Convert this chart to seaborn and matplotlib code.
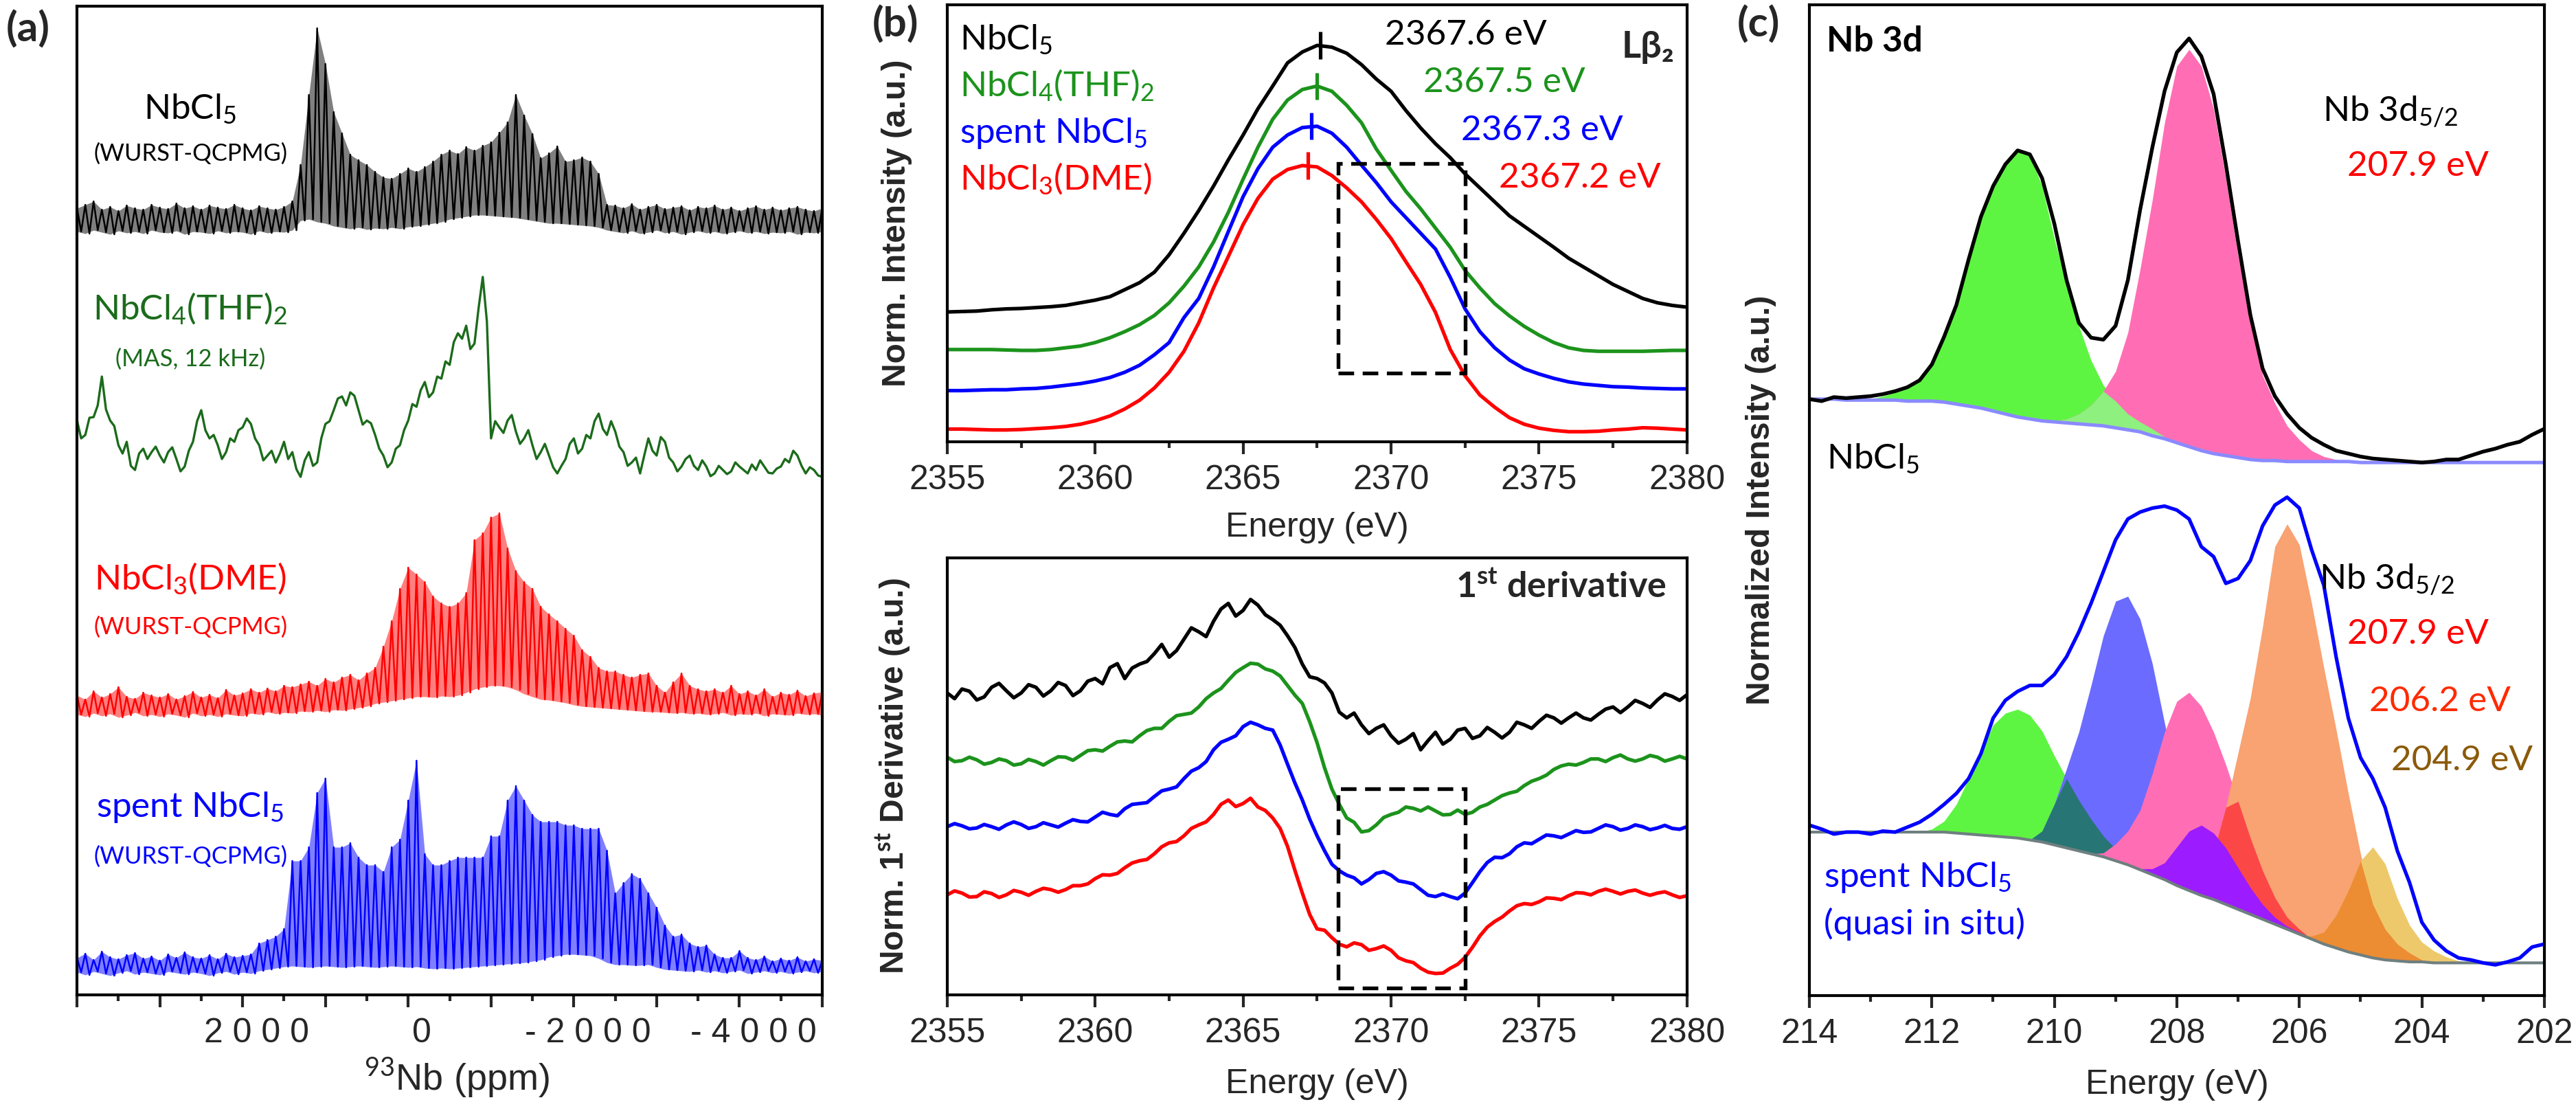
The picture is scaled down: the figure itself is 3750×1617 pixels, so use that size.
import numpy as np
import matplotlib
matplotlib.use("Agg")
import matplotlib.pyplot as plt
from matplotlib.patches import Rectangle
from matplotlib.ticker import MultipleLocator, FixedLocator, FixedFormatter
from matplotlib.transforms import ScaledTranslation
import seaborn as sns

# ---------------- (a) 93Nb NMR, read every 100 ppm from 4000 to -5000 ppm
# QCPMG traces: spike tops and spike bottoms (a.u., above each trace's own baseline)
nmr_black_top = [40, 45, 50, 38, 42, 36, 44, 40, 38, 45, 41, 39, 47, 40, 43, 38, 44, 41, 39, 45,
                 40, 37, 43, 40, 38, 42, 50, 103, 205, 302, 250, 180, 149, 118, 110, 103, 93, 85, 83, 90,
                 98, 93, 100, 108, 118, 124, 119, 129, 124, 131, 136, 150, 165, 205, 175, 148, 113, 120, 130, 108,
                 110, 114, 108, 90, 45, 44, 40, 46, 38, 42, 45, 39, 41, 43, 37, 42, 40, 44, 38, 41,
                 36, 40, 43, 38, 41, 37, 40, 42, 38, 36, 40]
nmr_black_bot = [6, 3, 8, 5, 2, 7, 4, 6, 3, 8, 5, 4, 7, 2, 6, 5, 3, 7, 4, 6,
                 5, 2, 7, 4, 6, 5, 8, 22, 24, 20, 18, 14, 12, 10, 12, 9, 11, 10, 12, 10,
                 13, 14, 16, 18, 20, 24, 26, 28, 30, 30, 29, 28, 27, 26, 24, 22, 20, 18, 18, 17,
                 16, 15, 14, 12, 8, 6, 4, 7, 3, 5, 8, 4, 6, 2, 5, 7, 4, 6, 3, 5,
                 7, 4, 6, 3, 5, 4, 6, 2, 5, 4, 6]
nmr_red_top = [36, 30, 42, 33, 38, 48, 34, 31, 40, 36, 33, 38, 30, 35, 41, 33, 37, 32, 44, 36, 39,
               45, 40, 46, 42, 50, 48, 52, 56, 50, 60, 55, 62, 66, 58, 68, 76, 107, 144, 191, 222,
               212, 201, 180, 170, 165, 170, 185, 262, 272, 295, 301, 250, 217, 201, 191, 165, 154, 144, 133, 123,
               102, 92, 76, 71, 71, 66, 62, 66, 68, 50, 40, 55, 68, 50, 45, 42, 45, 40, 50,
               38, 42, 36, 45, 34, 40, 37, 43, 35, 39, 41]
nmr_red_bot = [8, 5, 10, 6, 9, 4, 7, 11, 6, 8, 5, 9, 7, 4, 10, 6, 8, 5, 9, 7, 6, 10, 8, 12, 9, 11, 10, 13,
               12, 14, 12, 15, 14, 16, 18, 20,
               24, 26, 28, 30, 32, 34, 34, 33, 35, 34, 36, 40,
               45, 48, 50, 50, 48, 44,
               38, 34, 30, 29, 27, 25, 22, 20, 19, 18, 17,
               16, 15, 14, 13, 12, 12, 11, 10, 11, 9, 10, 8, 9, 11, 7, 9, 8, 10, 6, 9, 8, 7, 10, 8, 9, 7]
nmr_blue_top = [29, 35, 26, 38, 30, 27, 33, 36, 28, 31, 25, 34, 29, 37, 30, 28, 33, 27, 35, 30, 32,
                34, 50, 55, 60, 71, 170, 170, 190, 269, 290, 190, 190, 196, 175, 164, 164, 154, 190, 201, 258,
                316, 180, 164, 164, 170, 175, 175, 175, 175, 206, 206, 258, 279, 258, 237, 227, 227, 227, 222, 222,
                217, 217, 217, 185, 123, 138, 151, 144, 123, 102, 76, 60, 63, 50, 45, 47, 34, 29, 29, 39,
                29, 26, 31, 24, 28, 25, 30, 24, 27, 25]
nmr_blue_bot = [8, 4, 9, 6, 3, 7, 10, 5, 8, 6, 4, 9, 7, 5, 8, 6, 3, 7, 9, 5, 8, 6, 10, 12, 14,
                16, 17, 16, 15, 16, 17, 16, 15, 16, 17, 16, 15, 16, 17, 16, 15, 16,
                14, 13, 14, 13, 14, 15, 16, 17, 18, 19, 20, 21, 22, 24, 26,
                30, 32, 34, 34, 33, 32, 28, 22,
                19, 19, 18, 18, 19,
                15, 12, 11, 10, 9, 11, 8, 10, 7, 9, 11, 6, 8, 10, 7, 9, 6, 8, 10, 7, 9]
# MAS trace, read every 50 ppm from 4000 to -5000 ppm
nmr_green = [96, 70, 75, 100, 101, 118, 160, 112, 96, 88, 60, 48, 65, 30, 24, 48, 55, 40, 50, 58,
             45, 35, 50, 57, 40, 22, 29, 52, 65, 95, 111, 82, 70, 75, 60, 40, 50, 70, 65, 82,
             86, 99, 91, 70, 60, 38, 45, 52, 35, 48, 65, 40, 50, 25, 14, 38, 50, 30, 35, 70,
             91, 95, 111, 128, 131, 118, 137, 132, 111, 90, 96, 92, 75, 55, 45, 28, 35, 55, 60, 82,
             96, 120, 116, 140, 152, 130, 137, 160, 157, 182, 177, 210, 223, 215, 234, 200, 208, 260, 305, 240,
             70, 95, 86, 78, 96, 104, 80, 62, 70, 82, 60, 40, 50, 62, 45, 28, 19, 30, 40, 62,
             70, 48, 55, 75, 70, 95, 106, 84, 75, 95, 80, 58, 50, 30, 35, 42, 19, 45, 70, 52,
             45, 72, 65, 42, 35, 22, 29, 40, 45, 30, 24, 38, 29, 15, 19, 30, 24, 18, 22, 35,
             29, 24, 19, 32, 24, 38, 29, 20, 19, 26, 29, 40, 35, 52, 45, 30, 19, 28, 24, 16,
             14]
nmr_offsets = {"black": 1105, "green": 740, "red": 400, "blue": 25}
ppm_ticks = [4000, 3000, 2000, 1000, 0, -1000, -2000, -3000, -4000, -5000]
ppm_labels = ["", "", "2 0 0 0", "", "0", "", "- 2 0 0 0", "", "- 4 0 0 0", ""]

# ---------------- (b) Nb L-beta2 XANES, read every 0.5 eV from 2355 to 2380 eV
xan_black = [29.7, 29.8, 29.9, 30.2, 30.4, 30.5, 30.7, 30.9, 31.2, 31.8, 32.4, 33.2, 34.8, 36.4, 38.8, 42.8,
             47.7, 52.9, 58.5, 64.5, 70.2, 76.2, 81.4, 86.7, 89.2, 90.7, 90.3, 88.9, 86.3, 83.0, 80.2, 75.8,
             71.8, 68.2, 65.0, 61.3, 58.1, 54.9, 51.7, 49.3, 46.9, 44.5, 42.0, 40.0, 38.0, 36.0, 34.4, 32.8,
             31.8, 31.2, 30.8]
xan_green = [21.1, 21.1, 21.1, 21.1, 21.0, 20.9, 20.9, 21.1, 21.5, 21.9, 22.7, 23.8, 25.2, 26.8, 28.9, 31.8,
             35.6, 40.0, 45.7, 52.5, 60.1, 67.4, 73.8, 78.2, 80.6, 81.4, 80.2, 77.0, 73.0, 67.0, 62.1, 57.3,
             53.3, 48.9, 44.5, 39.2, 35.2, 31.6, 28.8, 26.4, 24.4, 22.7, 21.5, 20.9, 20.7, 20.7, 20.7, 20.7,
             20.8, 20.9, 20.9]
xan_blue = [11.7, 11.7, 11.8, 11.9, 11.9, 12.1, 12.2, 12.5, 12.9, 13.3, 13.9, 14.7, 15.9, 17.5, 19.9, 22.7,
            28.4, 32.8, 40.0, 48.1, 56.1, 62.5, 67.4, 70.2, 71.9, 72.2, 70.6, 67.4, 63.3, 59.3, 54.9, 51.3,
            47.7, 44.1, 37.6, 30.4, 25.2, 21.5, 18.7, 16.7, 15.5, 14.5, 13.7, 13.2, 12.9, 12.6, 12.5, 12.3,
            12.2, 12.1, 12.1]
xan_red = [2.9, 2.9, 2.8, 2.7, 2.7, 2.8, 3.0, 3.2, 3.5, 4.0, 4.8, 5.9, 7.5, 9.5, 12.3, 15.9,
           20.7, 27.2, 35.2, 42.4, 49.7, 55.7, 60.1, 62.3, 63.2, 62.9, 60.9, 58.1, 54.9, 50.9, 46.5, 41.2,
           36.0, 29.6, 21.1, 15.1, 10.7, 7.9, 5.5, 4.0, 3.1, 2.6, 2.3, 2.3, 2.4, 2.7, 2.9, 3.2,
           3.1, 2.9, 2.7]
# first derivative, read every 0.25 eV from 2355 to 2380 eV
der_black = [69.1, 67.8, 70.0, 69.5, 67.5, 68.2, 70.4, 71.3, 69.6, 68.0, 69.1, 71.0, 70.4, 68.4, 69.6, 71.5,
             70.8, 68.5, 69.6, 71.8, 72.4, 71.2, 74.9, 75.8, 72.4, 74.8, 75.7, 76.3, 78.1, 80.2, 77.3, 78.8,
             81.4, 84.0, 83.1, 82.0, 85.5, 88.3, 89.6, 86.7, 88.0, 90.5, 89.2, 87.0, 85.9, 84.6, 82.2, 79.5,
             75.7, 72.8, 72.4, 71.4, 69.1, 64.7, 63.4, 64.5, 61.8, 59.8, 61.0, 61.8, 59.3, 57.6, 58.5, 59.8,
             56.1, 58.2, 60.1, 57.4, 58.5, 60.6, 61.0, 58.7, 59.3, 61.2, 60.1, 58.8, 60.1, 62.4, 61.8, 61.0,
             62.6, 64.0, 63.4, 62.2, 63.4, 64.5, 63.4, 62.9, 64.2, 65.4, 65.9, 64.6, 65.9, 67.4, 66.7, 65.8,
             67.5, 68.9, 68.3, 67.4, 68.7]
der_green = [54.4, 53.4, 53.6, 54.4, 53.8, 52.8, 53.2, 54.0, 53.6, 52.6, 52.9, 53.9, 53.4, 52.6, 53.6, 54.5,
             54.4, 53.7, 54.8, 55.9, 56.1, 55.8, 56.9, 57.9, 58.1, 57.9, 59.3, 60.5, 61.0, 61.0, 62.6, 63.9,
             64.2, 64.5, 65.9, 67.8, 69.1, 70.1, 72.0, 73.8, 74.9, 75.9, 75.7, 74.6, 74.1, 73.0, 70.8, 68.6,
             66.7, 62.5, 57.7, 52.0, 47.1, 43.6, 40.5, 39.5, 37.3, 37.6, 38.9, 40.6, 41.3, 41.8, 43.0, 42.7,
             42.1, 43.0, 42.1, 41.2, 41.3, 42.3, 41.3, 41.8, 43.0, 43.6, 44.6, 45.6, 46.2, 46.6, 47.9, 48.9,
             49.5, 50.3, 51.6, 52.4, 52.8, 52.6, 53.2, 54.0, 54.0, 53.4, 54.3, 54.9, 54.0, 53.5, 54.0, 54.8,
             54.4, 53.5, 54.0, 54.6, 54.0]
der_blue = [38.5, 39.2, 38.7, 38.0, 38.2, 39.0, 38.5, 37.9, 38.9, 39.6, 39.0, 38.1, 38.5, 39.4, 38.9, 38.4,
            39.3, 40.1, 39.7, 39.6, 40.7, 41.8, 41.3, 41.0, 42.6, 43.6, 43.8, 44.0, 45.4, 46.7, 47.1, 47.6,
            49.5, 51.2, 52.0, 53.4, 56.1, 57.8, 58.5, 59.3, 61.4, 62.4, 61.8, 61.0, 60.6, 57.2, 52.8, 48.5,
            44.6, 40.2, 36.4, 33.0, 29.9, 28.4, 27.4, 26.8, 25.4, 26.4, 27.8, 28.2, 27.4, 26.1, 25.8, 25.4,
            24.1, 22.8, 22.5, 23.1, 22.5, 22.0, 23.3, 25.7, 28.2, 30.3, 31.5, 31.4, 32.3, 33.9, 34.8, 34.6,
            35.6, 36.6, 36.4, 36.0, 36.8, 37.6, 37.2, 37.3, 38.1, 38.9, 38.5, 37.7, 38.1, 38.9, 38.5, 37.8,
            38.2, 38.8, 38.1, 37.9, 38.5]
der_red = [22.9, 23.8, 23.3, 22.4, 22.5, 23.6, 23.2, 22.3, 22.9, 23.9, 23.5, 22.8, 23.7, 24.4, 24.1, 23.5,
           24.1, 25.0, 25.0, 25.4, 26.6, 27.5, 27.4, 27.8, 29.1, 30.2, 30.7, 31.0, 32.3, 33.9, 34.8, 35.1,
           36.4, 38.1, 38.9, 39.6, 41.3, 43.6, 44.6, 43.1, 43.8, 45.0, 43.0, 42.2, 40.5, 38.1, 34.0, 28.5,
           23.3, 18.4, 15.1, 14.8, 13.1, 11.6, 11.0, 11.9, 11.5, 10.2, 10.6, 11.2, 10.2, 8.5, 7.8, 7.4,
           6.1, 5.2, 4.9, 5.0, 6.1, 7.0, 8.6, 10.9, 13.5, 15.5, 16.8, 17.8, 19.2, 20.4, 20.9, 20.7,
           21.3, 22.2, 22.1, 21.8, 22.7, 23.4, 23.3, 22.9, 23.7, 24.2, 23.7, 23.1, 23.7, 24.0, 23.3, 22.8,
           23.3, 23.6, 22.9, 22.3, 22.7]
xan_names = ["NbCl$_5$", "NbCl$_4$(THF)$_2$", "spent NbCl$_5$", "NbCl$_3$(DME)"]
xan_peaks = [2367.6, 2367.5, 2367.3, 2367.2]
box_energy = [2368.2, 2372.5]
box_xanes = [15.7, 63.7]
box_deriv = [1.6, 47.1]

# ---------------- (c) Nb 3d XPS, read every 0.2 eV from 214 to 202 eV
xps_top = [60.2, 60.0, 60.4, 60.3, 60.4, 60.5, 60.7, 61.0, 61.4, 62.1, 63.7, 66.5, 69.7, 74.3, 78.6, 81.7,
           83.9, 85.3, 84.9, 82.5, 77.9, 72.2, 67.9, 66.4, 66.2, 67.6, 72.2, 79.3, 85.6, 91.3, 95.2, 96.6,
           94.8, 91.0, 83.9, 76.1, 68.7, 63.3, 60.5, 58.7, 57.3, 56.3, 55.6, 55.0, 54.7, 54.4, 54.2, 54.1,
           54.0, 53.9, 53.8, 53.9, 54.1, 54.1, 54.5, 54.9, 55.2, 55.6, 55.9, 56.6, 57.2]
bg_top = [60.2, 60.2, 60.2, 60.1, 60.1, 60.1, 60.1, 60.1, 60.0, 60.0, 60.0, 59.9, 59.7, 59.5, 59.3, 59.0,
          58.7, 58.4, 58.2, 58.0, 57.9, 57.8, 57.7, 57.6, 57.5, 57.3, 57.1, 56.9, 56.5, 56.2, 55.8, 55.4,
          55.0, 54.7, 54.5, 54.3, 54.1, 54.0, 54.0, 53.9, 53.9, 53.9, 53.9, 53.9, 53.9, 53.8, 53.8, 53.8,
          53.8, 53.8, 53.8, 53.8, 53.8, 53.8, 53.8, 53.8, 53.8, 53.8, 53.8, 53.8, 53.8]
top_d32 = [0] * 5 + [0.1, 0.4, 0.8, 1.3, 2.1, 3.7, 6.6, 10.0, 14.8, 19.3, 22.7, 25.2, 26.8, 26.6, 23.7,
                     18.5, 14.0, 9.9, 6.5, 4.1, 2.7, 1.6, 1.0, 0.7, 0.2] + [0] * 31
top_d52 = [0] * 20 + [0.1, 0.4, 1.0, 2.0, 3.5, 5.7, 9.8, 16.4, 23.8, 31.9, 38.0, 40.1, 38.8, 34.8, 28.0,
                      20.4, 14.2, 8.6, 5.8, 3.6, 2.2, 1.1, 0.5, 0.2] + [0] * 17
xps_spent = [17.2, 16.8, 16.3, 16.5, 16.5, 16.3, 16.6, 16.5, 17.0, 17.5, 18.3, 19.3, 20.4, 21.9, 24.4, 28.0,
             29.8, 30.7, 31.3, 31.3, 32.4, 34.2, 36.7, 39.6, 42.8, 46.0, 48.1, 48.8, 49.2, 49.4, 49.0, 48.1,
             45.3, 44.3, 41.6, 42.1, 43.9, 47.4, 49.5, 50.3, 49.2, 45.0, 41.4, 34.2, 28.0, 24.0, 21.9, 19.0,
             14.6, 11.4, 7.4, 5.6, 4.5, 3.8, 3.6, 3.3, 3.1, 3.4, 3.8, 4.9, 5.2]
bg_spent = [16.5] * 12 + [16.4, 16.3, 16.2, 16.1, 16.0, 15.9, 15.7, 15.5, 15.2, 14.9, 14.6, 14.3, 14.0, 13.6,
                          13.2, 12.7, 12.2, 11.7, 11.1, 10.6, 10.1, 9.7, 9.2, 8.7, 8.2, 7.7, 7.2, 6.7, 6.2,
                          5.7, 5.2, 4.8, 4.4, 4.1, 3.8, 3.6, 3.5, 3.4, 3.4] + [3.3] * 10
sp_green = [0] * 10 + [0.3, 1.1, 2.9, 5.6, 8.4, 11.2, 12.5, 13.0, 12.6, 11.2, 9.0, 7.0, 5.1, 3.5, 2.1,
                       1.2, 0.4, 0.1] + [0] * 33
sp_blue = [0] * 19 + [1.1, 4.1, 8.0, 12.0, 17.0, 22.3, 26.2, 27.1, 25.3, 21.3, 15.8, 10.6, 6.6, 4.3, 2.2,
                      1.3, 0.7, 0.3] + [0] * 24
sp_pink = [0] * 24 + [0.4, 1.7, 3.4, 6.0, 10.2, 14.9, 18.6, 20.0, 19.1, 16.9, 14.1, 10.9, 7.7, 4.9, 2.7,
                      1.2, 0.5] + [0] * 20
sp_purple = [0] * 27 + [0.1, 0.6, 1.7, 3.9, 6.0, 7.1, 6.7, 5.7, 4.2, 2.7, 1.5, 0.7, 0.3, 0.2] + [0] * 20
sp_orange = [0] * 31 + [0.3, 1.9, 4.8, 9.8, 15.8, 21.8, 29.5, 38.1, 40.9, 39.3, 33.9, 27.9, 22.1, 16.0,
                        10.2, 5.4, 3.1, 1.7, 0.9, 0.2] + [0] * 10
sp_yellow = [0] * 41 + [0.3, 1.2, 3.3, 6.2, 9.5, 11.2, 9.7, 6.3, 3.7, 2.0, 1.2, 0.6, 0.2] + [0] * 7

# ---------------- styling
sns.set_theme(style="white")
plt.rcParams.update({
    "font.family": ["Lato", "DejaVu Sans"],
    "mathtext.fontset": "custom",
    "mathtext.rm": "Lato",
    "mathtext.it": "Lato:italic",
    "mathtext.bf": "Lato:bold",
    "axes.edgecolor": "black",
    "axes.linewidth": 1.0,
})
TICK_FONT = "Liberation Sans"
GREEN_B = "#1c931c"

fig = plt.figure(figsize=(12.5, 5.39), dpi=300)
ax_a = fig.add_axes([0.0299, 0.1045, 0.2893, 0.8899])
ax_b1 = fig.add_axes([0.3677, 0.6024, 0.2872, 0.3933])
ax_b2 = fig.add_axes([0.3677, 0.1045, 0.2872, 0.3933])
ax_c = fig.add_axes([0.7024, 0.1039, 0.2853, 0.8918])


def style(ax, major, minor):
    ax.set_yticks([])
    ax.xaxis.set_minor_locator(MultipleLocator(minor))
    ax.tick_params(axis="x", which="major", direction="out", length=4.3, width=1.0, pad=3.6,
                   labelsize=12, bottom=True, top=False, labelfontfamily=TICK_FONT)
    ax.tick_params(axis="x", which="minor", direction="out", length=2.2, width=1.0, bottom=True, top=False)
    ax.tick_params(axis="y", left=False, right=False)
    for s in ax.spines.values():
        s.set_linewidth(1.0)
        s.set_color("black")
    if major is not None:
        ax.xaxis.set_major_locator(MultipleLocator(major))


def line(ax, x, y, color, lw):
    sns.lineplot(x=np.asarray(x), y=np.asarray(y), ax=ax, color=color, linewidth=lw,
                 estimator=None, sort=False, legend=False)


# ---------------- (a)
ppm = np.linspace(4000, -5000, len(nmr_black_top))
ppm_fine = np.linspace(4000, -5000, len(nmr_green))
half = (ppm[0] - ppm[1]) / 2

for top, bot, key, col in [(nmr_black_top, nmr_black_bot, "black", "black"),
                           (nmr_red_top, nmr_red_bot, "red", "#ff0000"),
                           (nmr_blue_top, nmr_blue_bot, "blue", "#0000ff")]:
    off = nmr_offsets[key]
    top, bot = np.asarray(top) + off, np.asarray(bot) + off
    ax_a.fill_between(ppm, bot, top, color=col, alpha=0.5, lw=0)
    xs = np.empty(2 * len(ppm))
    ys = np.empty(2 * len(ppm))
    xs[0::2], xs[1::2] = ppm, ppm - half
    ys[0::2], ys[1::2] = top, bot
    line(ax_a, xs, ys, col, 0.6)
line(ax_a, ppm_fine, np.asarray(nmr_green) + nmr_offsets["green"], "#1b6b1b", 0.8)

ax_a.set_xlim(4000, -5000)
ax_a.set_ylim(0, 1439)
style(ax_a, None, 500)
ax_a.xaxis.set_major_locator(FixedLocator(ppm_ticks))
ax_a.xaxis.set_major_formatter(FixedFormatter(ppm_labels))
ax_a.set_xlabel("$^{93}$Nb (ppm)", fontsize=13, family=TICK_FONT)
ax_a.xaxis.set_label_coords(0.51, -0.062)
ax_a.set_ylabel("")

a_texts = [("NbCl$_5$", 0.896, 12.3, "black"), ("(WURST-QCPMG)", 0.851, 8.3, "black"),
           ("NbCl$_4$(THF)$_2$", 0.694, 12.3, "#1b6b1b"), ("(MAS, 12 kHz)", 0.643, 8.3, "#1b6b1b"),
           ("NbCl$_3$(DME)", 0.421, 12.3, "#ff0000"), ("(WURST-QCPMG)", 0.372, 8.3, "#ff0000"),
           ("spent NbCl$_5$", 0.190, 12.3, "#0000ff"), ("(WURST-QCPMG)", 0.140, 8.3, "#0000ff")]
for s, y, fs, c in a_texts:
    ax_a.text(0.152, y, s, transform=ax_a.transAxes, ha="center", va="center", fontsize=fs, color=c)

# ---------------- (b)
energy = np.linspace(2355, 2380, len(xan_black))
energy_d = np.linspace(2355, 2380, len(der_black))
b_cols = ["black", GREEN_B, "#0000ff", "#ff0000"]
for curve, col, pk in zip([xan_black, xan_green, xan_blue, xan_red], b_cols, xan_peaks):
    line(ax_b1, energy, curve, col, 1.25)
    top = max(curve)
    ax_b1.vlines(pk, top - 3.1, top + 3.1, color=col, lw=1.25)
for curve, col in zip([der_black, der_green, der_blue, der_red], b_cols):
    line(ax_b2, energy_d, curve, col, 1.25)

for ax, yb in [(ax_b1, box_xanes), (ax_b2, box_deriv)]:
    ax.add_patch(Rectangle((box_energy[0], yb[0]), box_energy[1] - box_energy[0], yb[1] - yb[0],
                           fill=False, ec="black", lw=1.3, ls=(0, (4.2, 2.3)), zorder=5))
    ax.set_xlim(2355, 2380)
    ax.set_ylim(0, 100)
    style(ax, 5, 2.5)
    ax.set_xlabel("Energy (eV)", fontsize=12, family=TICK_FONT)

ax_b1.xaxis.set_label_coords(0.5, -0.16)
ax_b2.xaxis.set_label_coords(0.5, -0.168)
ax_b1.set_ylabel("Norm. Intensity (a.u.)", fontsize=11.5, fontweight="bold", family=TICK_FONT)
ax_b2.set_ylabel("Norm. 1$^{\\mathbf{st}}$ Derivative (a.u.)", fontsize=11.5, fontweight="bold",
                 family=TICK_FONT)
ax_b1.yaxis.set_label_coords(-0.047, 0.5)
ax_b2.yaxis.set_label_coords(-0.047, 0.5)

name_y = [0.921, 0.816, 0.706, 0.602]
peak_y = [0.931, 0.822, 0.712, 0.604]
peak_x = [0.701, 0.753, 0.804, 0.855]
for s, col, ny, px, py, pk in zip(xan_names, b_cols, name_y, peak_x, peak_y, xan_peaks):
    ax_b1.text(0.017, ny, s, transform=ax_b1.transAxes, ha="left", va="center", fontsize=12.3, color=col)
    ax_b1.text(px, py, f"{pk:.1f} eV", transform=ax_b1.transAxes, ha="center", va="center",
               fontsize=12.3, color=col)
ax_b1.text(0.983, 0.904, "Lβ₂", transform=ax_b1.transAxes, ha="right", va="center", fontsize=13,
           fontweight="bold", family=["Lato", "DejaVu Sans"])
ax_b2.text(0.972, 0.932, "1$^{\\mathbf{st}}$ derivative", transform=ax_b2.transAxes, ha="right",
           va="center", fontsize=12.5, fontweight="bold")

# ---------------- (c)
be = np.linspace(214, 202, len(xps_top))
bt = np.asarray(bg_top)
d32, d52 = np.asarray(top_d32), np.asarray(top_d52)
ax_c.fill_between(be, bt, bt + d32, color="#5ef542", lw=0, zorder=1)
ax_c.fill_between(be, bt, bt + d52, color="#ff6eb4", lw=0, zorder=1)
ax_c.fill_between(be, bt, bt + np.minimum(d32, d52), color="#8ef07e", lw=0, zorder=1)
line(ax_c, be, bg_top, "#8a8aff", 1.2)
line(ax_c, be, xps_top, "black", 1.3)

bs = np.asarray(bg_spent)
g, b, p = np.asarray(sp_green), np.asarray(sp_blue), np.asarray(sp_pink)
pu, o, yl = np.asarray(sp_purple), np.asarray(sp_orange), np.asarray(sp_yellow)
for comp, col in [(g, "#5ef542"), (b, "#6b6bff"), (np.minimum(g, b), "#277575"),
                  (p, "#ff6eb4"), (o, "#f9a272"), (np.minimum(p, o), "#fc4747"),
                  (pu, "#9c1cff"), (yl, "#eec96b"), (np.minimum(o, yl), "#ec8c33")]:
    ax_c.fill_between(be, bs, bs + comp, color=col, lw=0, zorder=1)
line(ax_c, be, bg_spent, "#6f7f7f", 1.0)
line(ax_c, be, xps_spent, "#0000ff", 1.25)

ax_c.set_xlim(214, 202)
ax_c.set_ylim(0, 100)
style(ax_c, 2, 1)
ax_c.set_xlabel("Energy (eV)", fontsize=12, family=TICK_FONT)
ax_c.xaxis.set_label_coords(0.5, -0.074)
ax_c.set_ylabel("Normalized Intensity (a.u.)", fontsize=11.5, fontweight="bold", family=TICK_FONT)
ax_c.yaxis.set_label_coords(-0.045, 0.5)

c_texts = [("Nb 3d", 0.023, 0.963, "left", "black", "bold"),
           ("Nb 3d$_{5/2}$", 0.698, 0.892, "left", "black", "normal"),
           ("207.9 eV", 0.828, 0.837, "center", "#ff0000", "normal"),
           ("NbCl$_5$", 0.023, 0.542, "left", "black", "normal"),
           ("Nb 3d$_{5/2}$", 0.694, 0.420, "left", "black", "normal"),
           ("207.9 eV", 0.828, 0.365, "center", "#ff0000", "normal"),
           ("206.2 eV", 0.858, 0.297, "center", "#ff2a00", "normal"),
           ("204.9 eV", 0.888, 0.237, "center", "#8b5a0a", "normal"),
           ("spent NbCl$_5$", 0.020, 0.119, "left", "#0000ff", "normal"),
           ("(quasi in situ)", 0.020, 0.072, "left", "#0000ff", "normal")]
for s, x, y, ha, col, w in c_texts:
    ax_c.text(x, y, s, transform=ax_c.transAxes, ha=ha, va="center", fontsize=12.3, color=col, fontweight=w)

# panel letters
for s, x, y in [("(a)", 0.0109, 0.974), ("(b)", 0.3475, 0.978), ("(c)", 0.6827, 0.978)]:
    fig.text(x, y, s, ha="center", va="center", fontsize=14.5, fontweight="bold")

# the ppm tick labels sit a little right of their ticks in the original
shift = ScaledTranslation(20 / 300, 0, fig.dpi_scale_trans)
for t in ax_a.xaxis.get_major_ticks():
    t.label1.set_transform(t.label1.get_transform() + shift)

fig.savefig("out.png", dpi=300)
